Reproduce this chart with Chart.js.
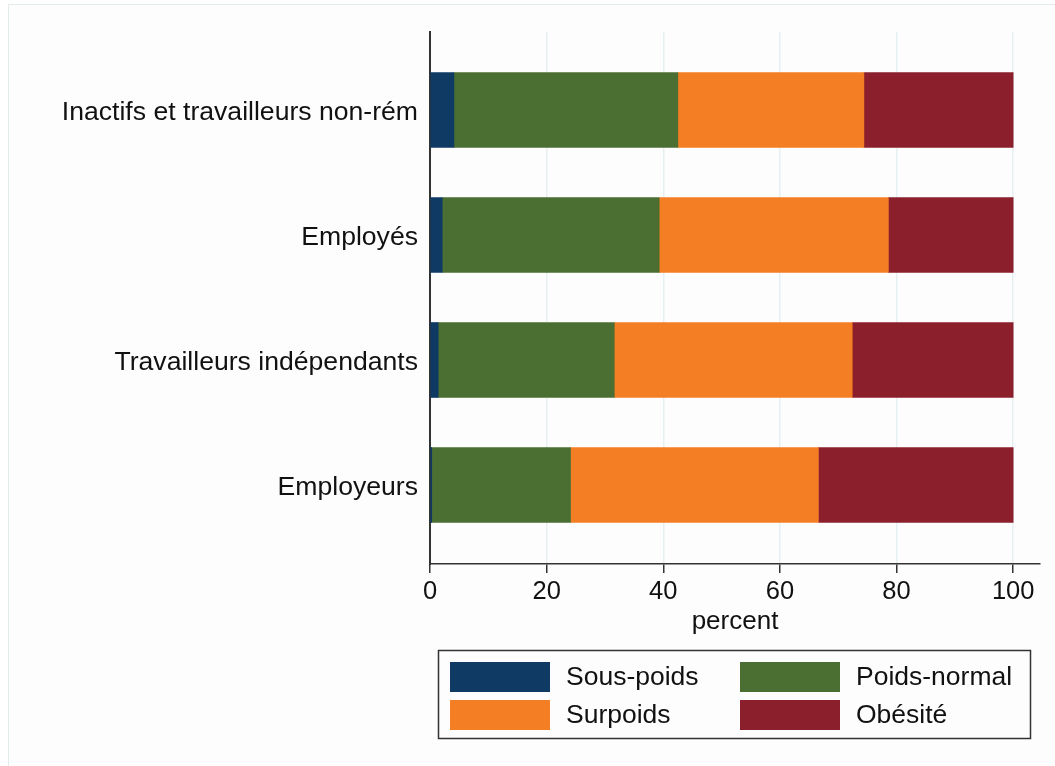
<!DOCTYPE html>
<html>
<head>
<meta charset="utf-8">
<script src="https://cdn.jsdelivr.net/npm/chart.js@4.4.0/dist/chart.umd.min.js"></script>
<style>
  html, body { margin: 0; padding: 0; background: #ffffff; }
  #wrap { position: relative; width: 1055px; height: 766px; overflow: hidden; }
  #frame { position: absolute; left: 8px; top: 4px; width: 1100px; height: 800px;
           border: 1px solid #e3ebed; background: #fdfdfd; }
  canvas { position: absolute; left: 0; top: 0; }
</style>
</head>
<body>
<div id="wrap">
  <div id="frame"></div>
  <canvas id="chart" width="1055" height="766"></canvas>
</div>
<script>
// Categories, top to bottom
const categories = [
    'Inactifs et travailleurs non-rém',
    'Employés',
    'Travailleurs indépendants',
    'Employeurs'
];

// Series values (percent of each category)
const sousPoids   = [4.1, 2.1, 1.4, 0.3];
const poidsNormal = [38.4, 37.2, 30.2, 23.8];
const surpoids    = [31.9, 39.3, 40.8, 42.5];
const obesite     = [25.6, 21.4, 27.6, 33.4];

const seriesLabels = ['Sous-poids', 'Poids-normal', 'Surpoids', 'Obésité'];
const seriesColors = ['#0e3a64', '#4b6e32', '#f47e24', '#8c1f2c'];

// X axis tick values
const xTicks = [0, 20, 40, 60, 80, 100];

const FONT = "'Liberation Sans', Arial, Helvetica, sans-serif";

// Build bar points: y is the category position (1 = top)
function toPoints(values) {
    return values.map((v, i) => ({ x: v, y: i + 1 }));
}

const datasets = [sousPoids, poidsNormal, surpoids, obesite].map((values, i) => ({
    label: seriesLabels[i],
    data: toPoints(values),
    backgroundColor: seriesColors[i],
    borderWidth: 0,
    barThickness: 75
}));

// Legend drawn in a framed 2 x 2 box under the axis
const boxLegend = {
    id: 'boxLegend',
    afterDraw(chart) {
        const ctx = chart.ctx;
        ctx.save();
        ctx.strokeStyle = '#333333';
        ctx.lineWidth = 1.5;
        ctx.strokeRect(438.5, 650.5, 592, 88);

        const cols = [450, 740];
        const rows = [662, 700];
        ctx.font = '26.5px ' + FONT;
        ctx.textBaseline = 'middle';
        ctx.textAlign = 'left';
        chart.data.datasets.forEach((ds, i) => {
            const x = cols[i % 2];
            const y = rows[Math.floor(i / 2)];
            ctx.fillStyle = ds.backgroundColor;
            ctx.fillRect(x, y, 100, 30);
            ctx.fillStyle = '#111111';
            ctx.fillText(ds.label, x + 116, y + 16);
        });
        ctx.restore();
    }
};

new Chart(document.getElementById('chart'), {
    type: 'bar',
    data: { datasets: datasets },
    options: {
        indexAxis: 'y',
        responsive: false,
        animation: false,
        layout: { padding: { top: 32, right: 15, bottom: 122, left: 0 } },
        scales: {
            x: {
                type: 'linear',
                stacked: true,
                min: 0,
                max: 104.6,
                afterBuildTicks: (scale) => {
                    scale.ticks = xTicks.map(v => ({ value: v }));
                },
                afterFit: (scale) => { scale.height = 80; },
                grid: {
                    color: '#e6f0f2',
                    lineWidth: 1.5,
                    tickColor: '#333333',
                    tickLength: 9,
                    tickWidth: 1.5
                },
                border: { display: true, color: '#333333', width: 1.5 },
                ticks: {
                    color: '#111111',
                    padding: 4,
                    font: { family: FONT, size: 25.5 }
                },
                title: {
                    display: true,
                    text: 'percent',
                    color: '#111111',
                    padding: { top: 0, bottom: 7 },
                    font: { family: FONT, size: 26 }
                }
            },
            y: {
                type: 'linear',
                stacked: true,
                reverse: true,
                offset: false,
                min: 0.376,
                max: 4.632,
                afterBuildTicks: (scale) => {
                    scale.ticks = categories.map((c, i) => ({ value: i + 1 }));
                },
                afterFit: (scale) => { scale.width = 430; },
                grid: { display: false, drawTicks: false, offset: false },
                border: { display: true, color: '#333333', width: 2 },
                ticks: {
                    color: '#111111',
                    padding: 12,
                    labelOffset: 3,
                    font: { family: FONT, size: 26.6 },
                    callback: (value) => categories[value - 1]
                }
            }
        },
        plugins: {
            legend: { display: false },
            tooltip: { enabled: false }
        }
    },
    plugins: [boxLegend]
});
</script>
</body>
</html>
